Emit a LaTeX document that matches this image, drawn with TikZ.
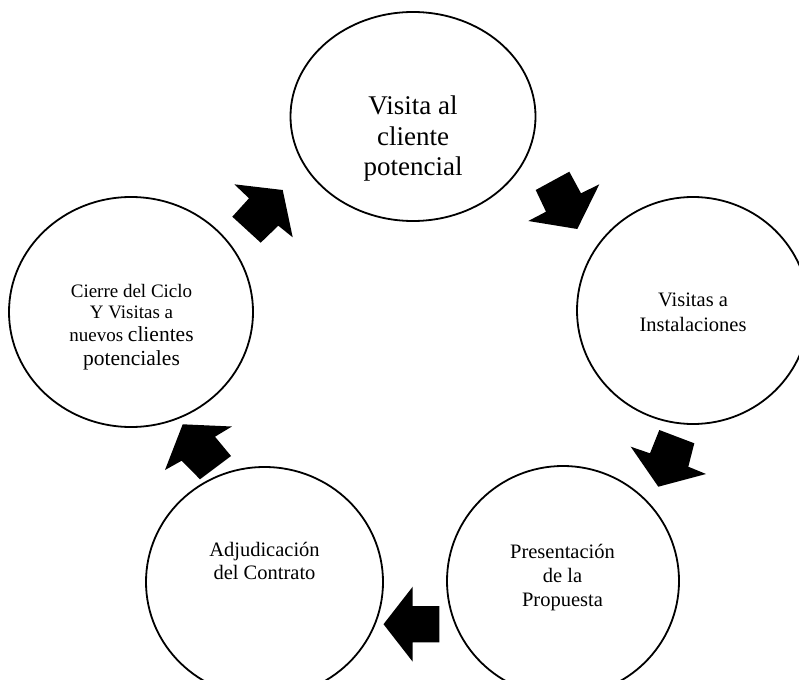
\documentclass[tikz,border=0pt]{standalone}
\usepackage{fontspec}
\setmainfont{Liberation Serif}
\usetikzlibrary{shapes.geometric}
% centred lines whose baseline is the baseline of the first line
\newcommand\stagelines[1]{\begin{tabular}[t]{@{}c@{}}#1\end{tabular}}
\begin{document}
\begin{tikzpicture}[x=1pt,y=-1pt,
  stage/.style={draw=black, line width=1.8pt, ellipse, inner sep=0pt, fill=white},
  caption/.style={anchor=base, inner sep=0pt},
  bigtext/.style={font=\fontsize{27}{30.5}\selectfont},
  blockarrow/.style={fill=black, draw=none}]
\useasboundingbox (0,0) rectangle (799,679);

% the five stages of the cycle
\node[stage, minimum width=245pt, minimum height=209pt] (visita)  at (413,116.5) {};
\node[stage, minimum width=232pt, minimum height=227pt] (instal)  at (693,310.5) {};
\node[stage, minimum width=232pt, minimum height=230pt] (propu)   at (563,581)   {};
\node[stage, minimum width=237pt, minimum height=230pt] (adjud)   at (264.5,582) {};
\node[stage, minimum width=244pt, minimum height=230pt] (cierre)  at (131,312)   {};

% their texts
\node[caption, bigtext] (tvisita) at (413,115)
  {\stagelines{Visita al\\cliente\\potencial}};
\node[caption, font=\fontsize{20.5}{25}\selectfont] (tinstal) at (693,306)
  {\stagelines{Visitas a\\Instalaciones}};
\node[caption, font=\fontsize{20.5}{24}\selectfont] (tpropu) at (562.5,558)
  {\stagelines{Presentación\\de la\\Propuesta}};
\node[caption, font=\fontsize{20.5}{22.5}\selectfont] (tadjud) at (264.5,556.7)
  {\stagelines{Adjudicación\\del Contrato}};
\node[caption, font=\fontsize{19}{21}\selectfont] (tcierre) at (131.5,297.3)
  {\stagelines{Cierre del Ciclo\\Y Visitas a\\[2.4pt]nuevos {\fontsize{21.5}{23}\selectfont clientes}\\[2.3pt]{\fontsize{21.5}{23}\selectfont potenciales}}};

% block arrows running round the cycle
\fill[blockarrow] (232.3,216.7) -- (249,198.3) -- (234.3,184.3) -- (282.7,190)
  -- (292.7,237.3) -- (278.3,225.7) -- (260.7,242.7) -- cycle;
\fill[blockarrow] (535.7,190) -- (569.3,171.7) -- (581,193.3) -- (599.3,184.3)
  -- (577.3,229) -- (528.3,221) -- (546,211.7) -- cycle;
\fill[blockarrow] (659.3,430) -- (694.3,443.3) -- (688.3,466.7) -- (706,474)
  -- (658.3,486.7) -- (630.7,446.7) -- (650,453.3) -- cycle;
\fill[blockarrow] (439.3,606) -- (412.7,606) -- (412.7,586.7) -- (383.5,624.2)
  -- (412.7,661.7) -- (412.7,642.3) -- (439.3,642.3) -- cycle;
\fill[blockarrow] (182.7,424.3) -- (231.9,426.5) -- (215,436.7) -- (231,456)
  -- (200,479.3) -- (181.7,460.7) -- (165,470) -- cycle;
\end{tikzpicture}
\end{document}
